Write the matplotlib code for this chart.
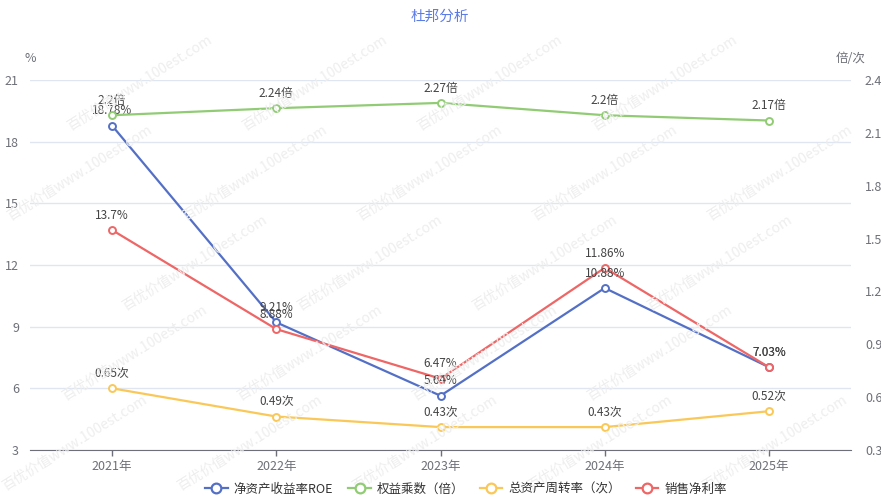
import matplotlib
matplotlib.use("Agg")
import matplotlib.pyplot as plt
from matplotlib.lines import Line2D

plt.rcParams["font.family"] = ["Noto Sans CJK SC", "DejaVu Sans"]

# ── data ──
years = ["2021年", "2022年", "2023年", "2024年", "2025年"]
roe = [18.78, 9.21, 5.64, 10.88, 7.03]            # 净资产收益率ROE (%)
equity_mult = [2.2, 2.24, 2.27, 2.2, 2.17]         # 权益乘数 (倍)
asset_turn = [0.65, 0.49, 0.43, 0.43, 0.52]        # 总资产周转率 (次)
net_margin = [13.7, 8.88, 6.47, 11.86, 7.03]       # 销售净利率 (%)
left_ticks = [3, 6, 9, 12, 15, 18, 21]
right_ticks = [0.3, 0.6, 0.9, 1.2, 1.5, 1.8, 2.1, 2.4]

BLUE, GREEN, YELLOW, RED = "#5470c6", "#91cc75", "#fac858", "#ee6666"
AXIS_TXT = "#6E7079"
LABEL_TXT = "#444444"

W, H = 881, 501
fig = plt.figure(figsize=(W / 100, H / 100), dpi=100)
ax = fig.add_axes([30 / W, (H - 450) / H, (851 - 30) / W, (450 - 80) / H])
ax2 = ax.twinx()

# watermark, only the copies that fit inside the figure
marks = []
for row in range(-2, 7):
    for col in range(-1, 7):
        marks.append(fig.text((col * 175 + row * 60) / W, (row * 90 + 10) / H,
                              "百优价值www.100est.com", rotation=32, color="#eeeeee",
                              fontsize=10, zorder=0))
renderer = fig.canvas.get_renderer()
for t in marks:
    bb = t.get_window_extent(renderer)
    if bb.x0 < 0 or bb.y0 < 0 or bb.x1 > W or bb.y1 > H:
        t.remove()

x = list(range(len(years)))

ax.set_xlim(-0.5, len(years) - 0.5)
ax.set_ylim(3, 21)
ax2.set_ylim(0.3, 2.4)
ax.set_yticks(left_ticks)
ax2.set_yticks(right_ticks)
ax.set_yticklabels([str(t) for t in left_ticks])
ax2.set_yticklabels([f"{t:g}" for t in right_ticks])
ax.set_xticks(x)
ax.set_xticklabels(years)

for a in (ax, ax2):
    for s in a.spines.values():
        s.set_visible(False)
    a.patch.set_visible(False)
ax.spines["bottom"].set_visible(True)
ax.spines["bottom"].set_color(AXIS_TXT)
ax.tick_params(axis="x", colors=AXIS_TXT, length=4, width=1, labelsize=9, pad=3)
ax.tick_params(axis="y", colors=AXIS_TXT, length=0, labelsize=9, pad=8)
ax2.tick_params(axis="y", colors=AXIS_TXT, length=0, labelsize=9, pad=10)
ax.grid(axis="y", color="#E0E6F1", linewidth=1)
ax.set_axisbelow(True)

def draw(axis, vals, color, fmt):
    axis.plot(x, vals, color=color, linewidth=1.6, marker="o", markersize=5,
              markerfacecolor="white", markeredgecolor=color, markeredgewidth=1.4, zorder=3)
    for xi, v in zip(x, vals):
        axis.annotate(fmt(v), (xi, v), xytext=(0, 6), textcoords="offset points",
                      ha="center", va="bottom", fontsize=8.5, color=LABEL_TXT, zorder=4)

draw(ax, roe, BLUE, lambda v: f"{v:g}%")
draw(ax2, equity_mult, GREEN, lambda v: f"{v:g}倍")
draw(ax2, asset_turn, YELLOW, lambda v: f"{v:g}次")
draw(ax, net_margin, RED, lambda v: f"{v:g}%")

fig.text(440 / W, 1 - 17 / H, "杜邦分析", ha="center", va="center", fontsize=10.5, color="#5b7be6")
fig.text(30 / W, 1 - 58 / H, "%", ha="center", va="center", fontsize=9, color=AXIS_TXT)
fig.text(851 / W, 1 - 58 / H, "倍/次", ha="center", va="center", fontsize=9, color=AXIS_TXT)

handles = [
    Line2D([], [], color=c, linewidth=1.6, marker="o", markersize=7,
           markerfacecolor="white", markeredgewidth=1.6)
    for c in (BLUE, GREEN, YELLOW, RED)
]
names = ["净资产收益率ROE", "权益乘数（倍）", "总资产周转率（次）", "销售净利率"]
fig.legend(handles, names, loc="center", bbox_to_anchor=(466 / W, 1 - 489 / H), ncol=4,
           frameon=False, fontsize=9, handlelength=1.8, handletextpad=0.5,
           columnspacing=1.2, labelcolor="#333333")

fig.savefig("out.png", dpi=100)
